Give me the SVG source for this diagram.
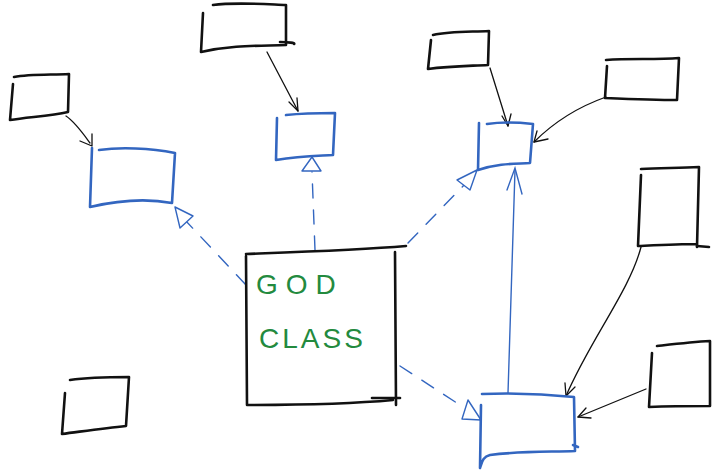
<svg xmlns="http://www.w3.org/2000/svg" width="720" height="475" viewBox="0 0 720 475">
<style>
.bk{fill:none;stroke:#111;stroke-width:2.6;stroke-linecap:round;stroke-linejoin:round}
.bl{fill:none;stroke:#3366c0;stroke-width:2.6;stroke-linecap:round;stroke-linejoin:round}
.ar{fill:none;stroke:#111;stroke-width:1.3;stroke-linecap:round;stroke-linejoin:round}
.da{fill:none;stroke:#3366c0;stroke-width:1.4;stroke-dasharray:14 12;stroke-linecap:round}
.tri{fill:#fff;stroke:#3366c0;stroke-width:1.4;stroke-linejoin:round}
.sl{fill:none;stroke:#3366c0;stroke-width:1.4;stroke-linecap:round}
.gt{font-family:"Liberation Sans",Arial,sans-serif;fill:#238a3e;font-size:28px}
</style>
<rect width="720" height="475" fill="#fff"/>
<g id="connectors">
<path class="ar" d="M66 116 C75 122 82 132 90 143"/><path class="ar" d="M80 141 L92 146 L92 134"/>
<path class="ar" d="M267 52 L298 111"/><path class="ar" d="M289 102 L298 111 L297 98"/>
<path class="ar" d="M490 68 L508 126"/><path class="ar" d="M502 116 L508 126 L511 114"/>
<path class="ar" d="M606 97 C575 108 552 124 534 142"/><path class="ar" d="M537 131 L534 142 L548 139"/>
<path class="ar" d="M641 247 C630 290 590 340 566 396"/><path class="ar" d="M565 383 L566 396 L575 387"/>
<path class="ar" d="M646 389 L578 417"/><path class="ar" d="M586 408 L578 417 L591 418"/>
<path class="da" d="M246 285 L185 220"/><path class="tri" d="M175 207 L193 216 L180 228 Z"/>
<path class="da" d="M315 250 L312 172"/><path class="tri" d="M312 157 L321 171 L302 171 Z"/>
<path class="da" d="M408 243 L465 184"/><path class="tri" d="M477 170 L470 190 L457 180 Z"/>
<path class="da" d="M400 366 L460 405"/><path class="tri" d="M481 420 L462 419 L468 400 Z"/>
<path class="sl" d="M508 393 L515 170"/><path class="sl" d="M507 190 L515 168 L522 194"/>
</g>
<g id="n1"><path class="bk" d="M14 77 C30 74 52 75 69 74 L68 112 C50 116 28 117 10 120 L13 84"/></g>
<g id="n2"><path class="bk" d="M213 5 C235 2 262 4 286 5 L286 45 C258 46 232 45 201 52 L203 13"/><path class="bk" d="M280 42 C288 42 296 43 294 44"/></g>
<g id="n3"><path class="bk" d="M433 35 C450 31 470 32 489 31 L488 65 C470 66 450 66 428 69 L431 40"/></g>
<g id="n4"><path class="bk" d="M606 60 C630 58 655 60 679 58 L677 100 C655 100 630 99 605 98 L607 66"/></g>
<g id="n5"><path class="bk" d="M641 169 C660 168 680 168 699 167 L697 247 M696 244 C680 244 660 245 638 246 L641 175"/><path class="bk" d="M697 246 L709 247"/></g>
<g id="n6"><path class="bk" d="M657 346 C675 344 692 342 710 341 L710 406 C690 406 672 406 649 407 L652 353"/></g>
<g id="n7"><path class="bk" d="M70 380 C90 377 110 377 129 377 L126 426 C105 428 85 431 62 434 L65 393"/></g>
<g id="god"><path class="bk" d="M246 254 C300 252 360 250 406 246"/><path class="bk" d="M246 256 L247 405 C300 405 350 404 393 400"/><path class="bk" d="M395 252 L396 405"/><path class="bk" d="M372 398 L400 398"/>
<text class="gt" x="256" y="294" letter-spacing="8">GOD</text>
<text class="gt" x="259" y="348" letter-spacing="3">CLASS</text></g>
<g id="b1"><path class="bl" d="M99 150 C120 147 150 148 175 153 L172 203 C145 198 120 200 90 207 L92 148"/></g>
<g id="b2"><path class="bl" d="M286 115 C305 113 320 113 335 113 L333 155 C315 156 300 156 276 160 L277 118"/></g>
<g id="b3"><path class="bl" d="M487 124 C500 122 515 122 533 124 L530 163 C515 164 500 163 478 170 L479 123"/></g>
<g id="b4"><path class="bl" d="M482 394 C510 393 545 394 574 397 L575 451 C550 452 520 451 490 455 C482 457 482 463 480 468 L481 405"/><path class="bl" d="M573 445 L578 447"/></g>
</svg>
